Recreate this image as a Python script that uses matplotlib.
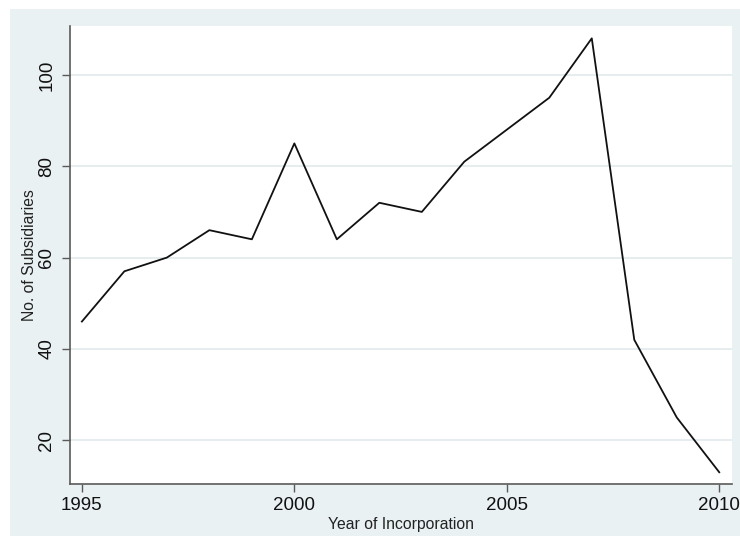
import matplotlib
matplotlib.use("Agg")
import matplotlib.pyplot as plt
from matplotlib.patches import Rectangle

# Subsidiaries incorporated per year
years = [1995, 1996, 1997, 1998, 1999, 2000, 2001, 2002,
         2003, 2004, 2005, 2006, 2007, 2008, 2009, 2010]
subsidiaries = [46, 57, 60, 66, 64, 85, 64, 72,
                70, 81, 88, 95, 108, 42, 25, 13]
x_ticks = [1995, 2000, 2005, 2010]
y_ticks = [20, 40, 60, 80, 100]

plt.rcParams['font.family'] = ['Liberation Sans', 'DejaVu Sans']

W, H = 740, 536
fig = plt.figure(figsize=(W / 100, H / 100), dpi=100, facecolor='white')

# graph region background, kept behind the axes
fig.patches.append(Rectangle((10 / W, 0), 1 - 10 / W, 1 - 9 / H,
                             transform=fig.transFigure, facecolor='#EAF1F3',
                             edgecolor='none', zorder=-10))

ax = fig.add_axes([70 / W, (H - 484) / H, (732 - 70) / W, (484 - 26) / H])
ax.set_facecolor('white')
ax.set_zorder(1)

ax.plot(years, subsidiaries, color='#111111', linewidth=1.3, zorder=3)

ax.set_xlim(1994.72, 2010.3)
ax.set_ylim(10.43, 110.7)
ax.set_xticks(x_ticks)
ax.set_yticks(y_ticks)
ax.set_xticklabels([str(t) for t in x_ticks], fontsize=13.5)
ax.set_yticklabels([str(t) for t in y_ticks], fontsize=13.5, rotation=90,
                   va='center')

ax.grid(axis='y', color='#E2EAEC', linewidth=1.2, zorder=1)
ax.grid(axis='x', visible=False)

for side in ('top', 'right'):
    ax.spines[side].set_visible(False)
for side in ('left', 'bottom'):
    ax.spines[side].set_color('#5a5a5a')
    ax.spines[side].set_linewidth(1.2)

ax.tick_params(axis='both', direction='out', length=5.5, width=1.0,
               color='#5a5a5a', labelcolor='#111111')
ax.tick_params(axis='x', pad=4)
ax.tick_params(axis='y', pad=5)

ax.set_xlabel('Year of Incorporation', fontsize=11.3, color='#222222', labelpad=2)
ax.set_ylabel('No. of Subsidiaries', fontsize=11.3, color='#222222', labelpad=1)

fig.savefig('out.png', dpi=100, facecolor='white')
